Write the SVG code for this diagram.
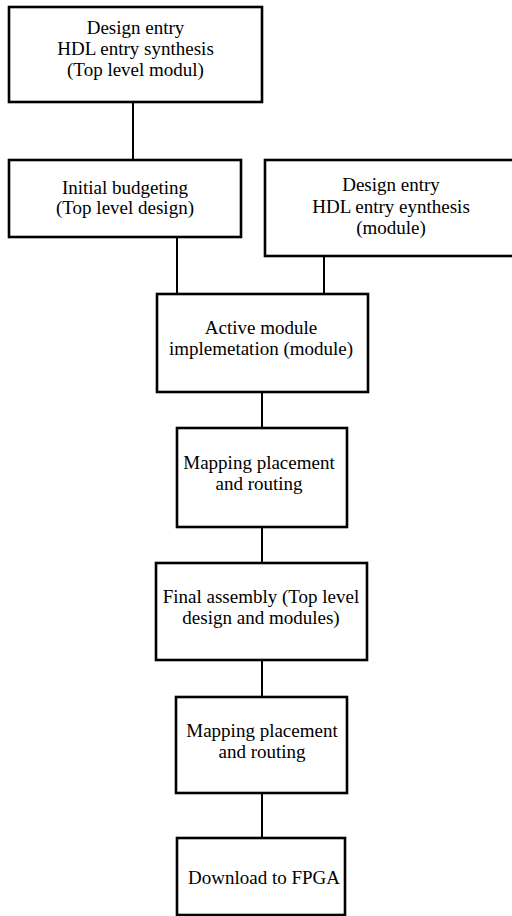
<svg xmlns="http://www.w3.org/2000/svg" width="512" height="916" viewBox="0 0 512 916">
<style>
.box{fill:#fff;stroke:#000;stroke-width:2.6}
.ln{stroke:#000;stroke-width:2;fill:none}
.t{font-size:19px;fill:#000;text-anchor:middle}
</style>
<rect width="512" height="916" fill="#fff"/>
<g id="connectors">
<line class="ln" x1="133" y1="102" x2="133" y2="160"/>
<line class="ln" x1="177" y1="237" x2="177" y2="294"/>
<line class="ln" x1="324" y1="256" x2="324" y2="294"/>
<line class="ln" x1="262" y1="392" x2="262" y2="428"/>
<line class="ln" x1="262" y1="527" x2="262" y2="563"/>
<line class="ln" x1="262" y1="660" x2="262" y2="697"/>
<line class="ln" x1="262" y1="793" x2="262" y2="838"/>
</g>
<g font-family="Liberation Serif, Times New Roman, serif">
<g id="n1">
<rect class="box" x="9" y="7" width="253" height="95"/>
<text class="t" x="135.5" y="34">Design entry</text>
<text class="t" x="135.5" y="55">HDL entry synthesis</text>
<text class="t" x="135.5" y="76">(Top level modul)</text>
</g>
<g id="n2">
<rect class="box" x="9" y="160" width="232" height="77"/>
<text class="t" x="125" y="194">Initial budgeting</text>
<text class="t" x="125" y="214">(Top level design)</text>
</g>
<g id="n3">
<rect class="box" x="265" y="160" width="260" height="96"/>
<text class="t" x="391" y="191">Design entry</text>
<text class="t" x="391" y="213">HDL entry eynthesis</text>
<text class="t" x="391" y="234">(module)</text>
</g>
<g id="n4">
<rect class="box" x="157" y="294" width="211" height="98"/>
<text class="t" x="261" y="334">Active module</text>
<text class="t" x="261" y="355">implemetation (module)</text>
</g>
<g id="n5">
<rect class="box" x="177" y="428" width="170" height="99"/>
<text class="t" x="259" y="469">Mapping placement</text>
<text class="t" x="259" y="490">and routing</text>
</g>
<g id="n6">
<rect class="box" x="156" y="563" width="211" height="97"/>
<text class="t" x="261" y="603">Final assembly (Top level</text>
<text class="t" x="261" y="624">design and modules)</text>
</g>
<g id="n7">
<rect class="box" x="176" y="697" width="171" height="96"/>
<text class="t" x="262" y="737">Mapping placement</text>
<text class="t" x="262" y="758">and routing</text>
</g>
<g id="n8">
<rect class="box" x="177" y="838" width="168" height="77"/>
<text class="t" x="264" y="884">Download to FPGA</text>
</g>
</g>
</svg>
